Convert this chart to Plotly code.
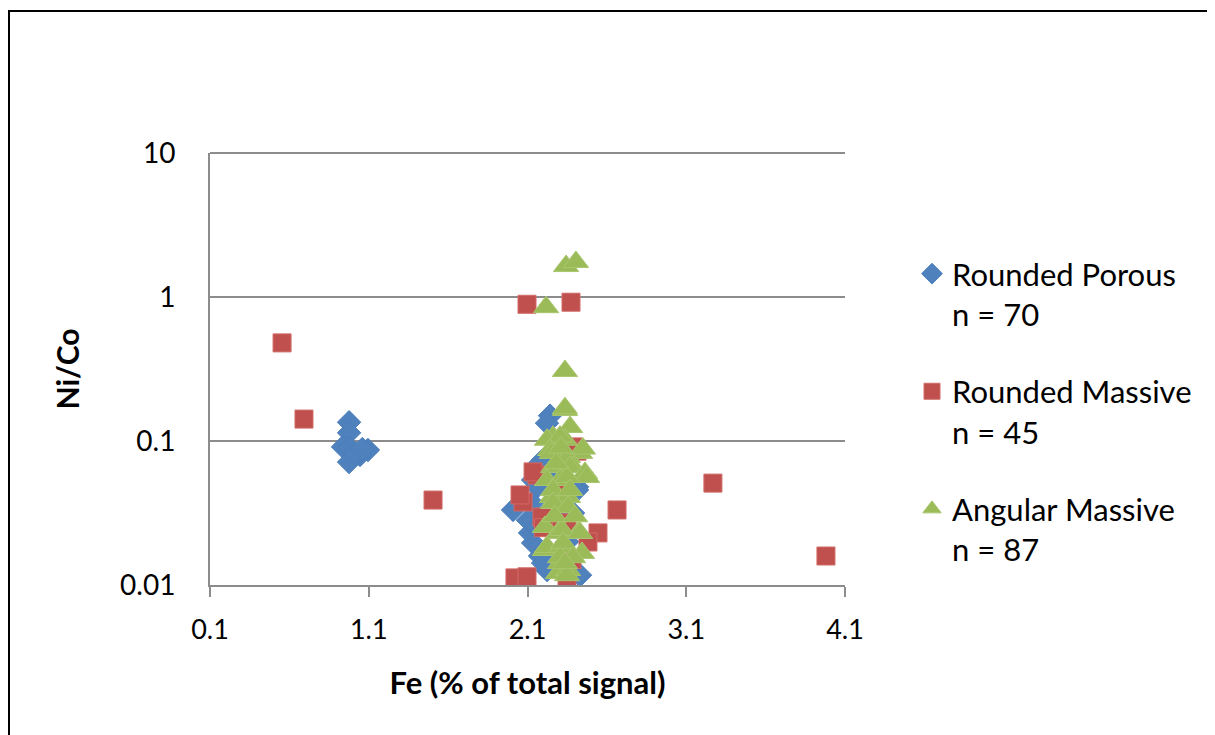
import plotly.graph_objects as go

# ---- data ----
porous_x = [0.976, 0.976, 0.938, 0.976, 1.095, 1.045, 0.976, 1.013, 1.060,
            2.242, 2.223, 2.198, 2.179, 2.135, 2.160, 2.009, 2.128, 2.135, 2.116,
            2.179, 2.223, 2.198, 2.431, 2.412, 2.387, 2.286, 2.368, 2.412, 2.103,
            2.160, 2.200, 2.300, 2.350, 2.280, 2.250, 2.330]
porous_y = [0.135, 0.114, 0.091, 0.089, 0.0866, 0.080, 0.0714, 0.0827, 0.088,
            0.150, 0.133, 0.0738, 0.0703, 0.0536, 0.048, 0.0332, 0.0371, 0.0196, 0.023,
            0.0159, 0.0127, 0.0142, 0.0117, 0.048, 0.0316, 0.048, 0.0436, 0.0457, 0.0282,
            0.0253, 0.030, 0.035, 0.020, 0.015, 0.060, 0.080]

massive_x = [0.554, 0.692, 1.505, 2.097, 2.374, 2.072, 2.021, 2.097, 2.160, 2.664,
             2.210, 2.305, 2.544, 2.481, 2.349, 3.268, 3.980, 2.135, 2.053, 2.349,
             2.273, 2.387, 2.412, 2.191, 2.200, 2.380, 2.310]
massive_y = [0.48, 0.142, 0.0389, 0.89, 0.92, 0.0377, 0.0112, 0.0114, 0.058, 0.0332,
             0.0296, 0.027, 0.023, 0.0199, 0.0105, 0.051, 0.0159, 0.061, 0.0422, 0.0253,
             0.094, 0.091, 0.085, 0.0296, 0.025, 0.015, 0.045]

angular_x = [2.217, 2.343, 2.405, 2.336, 2.336, 2.336, 2.368, 2.261, 2.336, 2.223,
             2.305, 2.242, 2.431, 2.254, 2.324, 2.355, 2.449, 2.261, 2.387, 2.368,
             2.462, 2.475, 2.223, 2.305, 2.349, 2.254, 2.355, 2.261, 2.368, 2.261,
             2.355, 2.210, 2.292, 2.418, 2.317, 2.431, 2.210, 2.223, 2.317, 2.324,
             2.443, 2.305, 2.292, 2.355, 2.349, 2.305, 2.387, 2.336, 2.280, 2.310,
             2.270, 2.400]
angular_y = [0.85, 1.64, 1.75, 0.306, 0.164, 0.169, 0.125, 0.107, 0.102, 0.102,
             0.107, 0.0866, 0.0827, 0.0827, 0.0774, 0.0774, 0.0886, 0.0659, 0.0659, 0.0659,
             0.060, 0.0562, 0.0536, 0.0536, 0.0562, 0.0408, 0.0408, 0.0457, 0.0457, 0.0371,
             0.0348, 0.0253, 0.023, 0.023, 0.0241, 0.023, 0.0175, 0.0184, 0.0184, 0.0196,
             0.0167, 0.0142, 0.0121, 0.0127, 0.0117, 0.0156, 0.0156, 0.0142, 0.070, 0.090,
             0.030, 0.030]

series_names = ["Rounded Porous<br>n = 70", "Rounded Massive<br>n = 45", "Angular Massive<br>n = 87"]
y_tickvals = [0.01, 0.1, 1, 10]
y_ticktext = ["0.01", "0.1", "1", "10"]

FONT = "Lato"
GRID = "#8c8c8c"

# page body has an 8px offset; work in figure coordinates
OFF = 8
W, H = 1215 - OFF, 735 - OFF

fig = go.Figure()
fig.add_trace(go.Scatter(x=porous_x, y=porous_y, mode="markers", name=series_names[0],
                         legendgroup="a",
                         marker=dict(symbol="diamond", size=18, color="#4F81BD",
                                     line=dict(width=1, color="#4A7EBB"))))
fig.add_trace(go.Scatter(x=massive_x, y=massive_y, mode="markers", name=series_names[1],
                         legendgroup="b",
                         marker=dict(symbol="square", size=18, color="#C0504D",
                                     line=dict(width=1, color="#D06A67"))))
fig.add_trace(go.Scatter(x=angular_x, y=angular_y, mode="markers", name=series_names[2],
                         legendgroup="c",
                         marker=dict(symbol="triangle-up", size=22, color="#9BBB59",
                                     line=dict(width=1, color="#A9C66E"))))

L, T = 210 - OFF, 153 - OFF
PW, PH = 635, 432
R, B = W - L - PW, H - T - PH

def px(xp):  # screen x -> paper
    return (xp - OFF - L) / PW

def py(yp):  # screen y -> paper
    return (T + PH - (yp - OFF)) / PH

fig.add_shape(type="rect", xref="paper", yref="paper",
              x0=px(9), x1=px(1211), y0=py(760), y1=py(11),
              line=dict(color="black", width=2), fillcolor="rgba(0,0,0,0)", layer="below")
# top gridline at 10
fig.add_shape(type="line", xref="paper", yref="paper", x0=0, x1=1, y0=1, y1=1,
              line=dict(color=GRID, width=2), layer="below")

fig.update_layout(
    width=W, height=H,
    margin=dict(l=L, r=R, t=T, b=B),
    paper_bgcolor="white", plot_bgcolor="white",
    font=dict(family=FONT, size=27, color="black"),
    showlegend=True,
    legend=dict(x=px(912), xanchor="left", y=py(247), yanchor="top",
                valign="top", tracegroupgap=34, traceorder="grouped",
                font=dict(family=FONT, size=31, color="black"),
                bgcolor="rgba(0,0,0,0)"),
    xaxis=dict(range=[0.1, 4.1], tick0=0.1, dtick=1, tickformat=".1f",
               showline=True, linecolor=GRID, linewidth=2,
               ticks="outside", ticklen=10, tickwidth=2, tickcolor=GRID,
               showgrid=False, zeroline=False, ticklabelstandoff=10,
               tickfont=dict(family=FONT, size=27),
               title=dict(text="Fe (% of total signal)", standoff=28,
                          font=dict(family=FONT, size=31, weight="bold"))),
    yaxis=dict(type="log", range=[-2, 1], tickvals=y_tickvals, ticktext=y_ticktext,
               showline=True, linecolor=GRID, linewidth=2,
               showgrid=True, gridcolor=GRID, gridwidth=2,
               ticks="", zeroline=False, ticklabelstandoff=27,
               tickfont=dict(family=FONT, size=28),
               title=dict(text="Ni/Co", standoff=32,
                          font=dict(family=FONT, size=30, weight="bold"))),
)

fig.write_html("out.html")
